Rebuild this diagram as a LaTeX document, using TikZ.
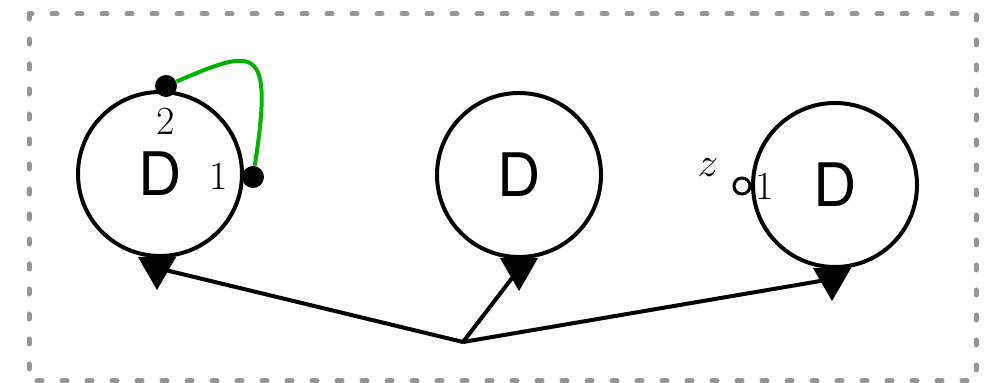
\documentclass[tikz,border=0pt]{standalone}
\usepackage{fontspec}
\newfontfamily\heros{TeX Gyre Heros}
\usetikzlibrary{shapes.geometric}
\definecolor{framegray}{RGB}{150,150,150}
\definecolor{wiregreen}{RGB}{0,180,0}
\tikzset{
  boxnode/.style={circle,draw,line width=2pt,minimum size=82pt,inner sep=0pt,font=\heros\fontsize{30}{31}\selectfont},
  outtri/.style={regular polygon,regular polygon sides=3,shape border rotate=180,fill=black,draw=none,minimum size=22pt,inner sep=0pt},
  portdot/.style={circle,fill=black,minimum size=11pt,inner sep=0pt},
  openport/.style={circle,draw,fill=white,line width=1.5pt,minimum size=8pt,inner sep=0pt},
  lbl/.style={inner sep=0pt,font=\fontsize{20}{22}\selectfont},
  wire/.style={line width=2pt},
}
\begin{document}
\begin{tikzpicture}[x=0.5pt,y=-0.5pt]
\useasboundingbox (0,0) rectangle (999,383);
\draw[framegray,line width=2.5pt,line cap=round,dash pattern=on 2.5pt off 10pt] (29,14) rectangle (976,381);
% boxes
\node[boxnode] (d1) at (160,174) {D};
\node[boxnode] (d2) at (519,175) {D};
\node[boxnode] (d3) at (835,185) {D};
% output triangles
\node[outtri] (t1) at (157,268) {};
\node[outtri] (t2) at (519,269) {};
\node[outtri] (t3) at (832,279) {};
% junction
\coordinate (j) at (463,342);
\draw[wire] (j) -- (t1.center);
\draw[wire] (j) -- (t2.center);
\draw[wire] (j) -- (t3.center);
% ports of first box
\node[portdot] (p2) at (166,86) {};
\node[portdot] (p1) at (253,177) {};
\draw[wire,wiregreen] (p2) .. controls (255,48) and (274,42) .. (p1);
\node[lbl] (l2) at (166,121) {2};
\node[lbl] (l1) at (219,176) {1};
% port of third box
\node[openport] (q) at (742,186) {};
\node[lbl] (l3) at (765,186) {1};
\node[lbl] (lz) at (708,168) {$z$};
\end{tikzpicture}
\end{document}
